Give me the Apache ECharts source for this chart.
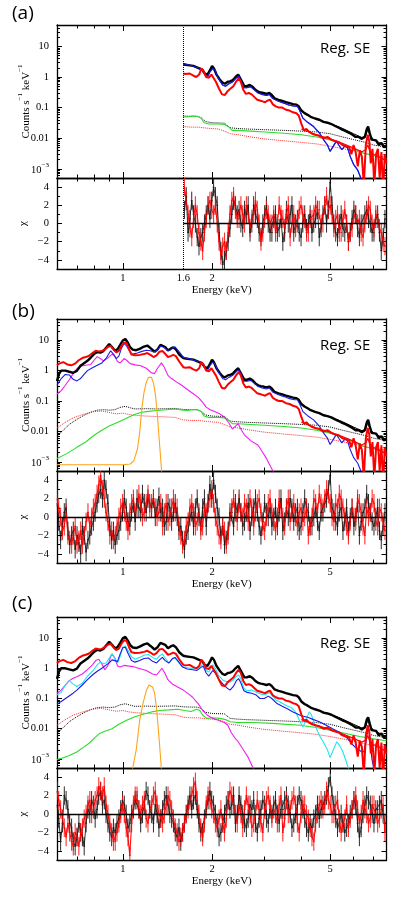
<!DOCTYPE html>
<html><head><meta charset="utf-8">
<script src="https://cdn.jsdelivr.net/npm/echarts@6/dist/echarts.min.js"></script>
<style>html,body{margin:0;padding:0;background:#fff}#c{width:409px;height:897px}</style>
</head><body><div id="c"></div>
<script>
// ---------------- DATA ----------------
// Observed spectra (same data in all three panels): [energy keV, counts s^-1 keV^-1]
const blackData = [[0.60,0.45],[0.61,0.8],[0.62,1.0],[0.64,1.0],[0.66,0.92],[0.68,0.85],[0.70,0.98],[0.72,1.45],[0.74,1.75],[0.76,2.1],
[0.78,2.7],[0.80,3.5],[0.82,4.1],[0.84,3.9],[0.86,4.4],[0.88,5.8],[0.90,7.5],[0.92,6.0],[0.94,4.6],[0.96,5.0],
[0.98,7.0],[1.00,9.8],[1.02,11.0],[1.04,8.3],[1.06,5.8],[1.08,4.9],[1.11,4.7],[1.14,5.2],[1.18,6.2],[1.21,6.7],
[1.24,5.5],[1.28,4.2],[1.31,5.0],[1.34,7.0],[1.36,7.6],[1.39,6.0],[1.42,4.6],[1.45,5.3],[1.48,5.8],[1.51,5.0],
[1.55,3.4],[1.60,2.6],[1.63,2.5],[1.68,2.4],[1.73,2.3],[1.77,2.1],[1.81,1.9],[1.85,1.75],[1.89,1.3],[1.93,1.2],
[1.97,1.7],[2.00,2.3],[2.03,1.9],[2.07,1.2],[2.12,0.85],[2.17,0.65],[2.21,0.6],[2.26,0.7],[2.30,0.72],[2.35,0.8],
[2.40,1.0],[2.45,1.2],[2.48,1.1],[2.52,0.72],[2.57,0.5],[2.62,0.5],[2.68,0.55],[2.74,0.48],[2.80,0.38],[2.86,0.33],
[2.92,0.31],[2.98,0.3],[3.05,0.28],[3.12,0.3],[3.18,0.26],[3.25,0.2],[3.35,0.18],[3.45,0.165],[3.55,0.15],[3.65,0.14],
[3.75,0.13],[3.85,0.125],[3.92,0.11],[4.00,0.08],[4.10,0.066],[4.20,0.058],[4.30,0.05],[4.45,0.044],[4.60,0.04],[4.75,0.034],
[4.90,0.032],[5.05,0.029],[5.20,0.025],[5.35,0.022],[5.50,0.019],[5.65,0.017],[5.80,0.015],[5.95,0.013],[6.10,0.011],[6.25,0.011],
[6.40,0.0095],[6.55,0.011],[6.65,0.02],[6.72,0.024],[6.80,0.015],[6.90,0.009],[7.00,0.008],[7.15,0.0085],[7.30,0.006],[7.45,0.007],
[7.60,0.005],[7.72,0.006]];
const redData = [[0.60,1.5],[0.61,1.7],[0.63,1.9],[0.65,1.6],[0.67,1.5],[0.69,1.7],[0.71,2.2],[0.73,2.6],[0.75,2.8],[0.77,3.1],
[0.79,3.8],[0.81,4.5],[0.83,4.3],[0.85,4.4],[0.87,5.0],[0.89,6.0],[0.91,6.5],[0.93,5.0],[0.95,4.0],[0.97,4.5],
[0.99,6.5],[1.01,8.5],[1.03,8.0],[1.05,5.0],[1.07,3.4],[1.10,3.2],[1.14,3.3],[1.18,3.5],[1.21,3.8],[1.24,3.3],
[1.27,2.8],[1.30,3.2],[1.33,4.2],[1.36,4.4],[1.39,3.6],[1.42,2.8],[1.45,3.0],[1.48,3.3],[1.51,3.0],[1.55,2.0],
[1.60,1.3],[1.63,1.25],[1.68,1.3],[1.73,1.1],[1.77,1.0],[1.81,1.2],[1.84,1.9],[1.87,1.6],[1.91,1.0],[1.95,0.95],
[1.99,1.2],[2.02,1.1],[2.06,0.7],[2.11,0.42],[2.16,0.27],[2.21,0.26],[2.26,0.35],[2.31,0.42],[2.36,0.5],[2.41,0.7],
[2.46,0.9],[2.50,0.7],[2.55,0.38],[2.60,0.28],[2.66,0.3],[2.72,0.27],[2.78,0.22],[2.84,0.18],[2.90,0.17],[2.96,0.16],
[3.02,0.15],[3.08,0.17],[3.14,0.18],[3.20,0.13],[3.28,0.11],[3.36,0.1],[3.45,0.1],[3.55,0.085],[3.65,0.08],[3.75,0.07],
[3.85,0.065],[3.92,0.055],[4.00,0.03],[4.08,0.018],[4.16,0.02],[4.25,0.016],[4.35,0.014],[4.45,0.013],[4.60,0.012],[4.75,0.01],
[4.90,0.011],[5.05,0.009],[5.20,0.008],[5.35,0.0075],[5.50,0.006],[5.65,0.0055],[5.80,0.005],[5.90,0.003],[6.00,0.006],[6.10,0.0035],
[6.20,0.0012],[6.30,0.004],[6.40,0.0025],[6.50,0.0003],[6.60,0.006],[6.70,0.013],[6.78,0.008],[6.86,0.0015],[6.95,0.0045],[7.05,0.0003],
[7.15,0.003],[7.25,0.0045],[7.35,0.0005],[7.45,0.0035],[7.55,0.0002],[7.65,0.003],[7.72,0.0015]];
const blackModel = [[4.5,0.042],[5.0,0.03],[5.5,0.021],[6.0,0.014],[6.4,0.0105],[6.6,0.012],[6.7,0.02],[6.8,0.013],[7.0,0.009],[7.4,0.0068],[7.75,0.0053]];
const redModel = [[4.0,0.02],[4.5,0.013],[5.0,0.0095],[5.5,0.0068],[6.0,0.0048],[6.4,0.0036],[6.6,0.0042],[6.7,0.006],[6.8,0.004],[7.0,0.003],[7.4,0.0023],[7.75,0.0018]];
// Background models (dotted)
const bgBlack = [[0.60,0.007],[0.63,0.011],[0.66,0.017],[0.70,0.025],[0.74,0.034],[0.78,0.043],[0.82,0.05],[0.86,0.052],[0.90,0.05],[0.94,0.052],
[0.98,0.062],[1.02,0.067],[1.06,0.06],[1.10,0.055],[1.20,0.056],[1.30,0.055],[1.40,0.056],[1.50,0.057],[1.60,0.053],[1.70,0.052],
[1.78,0.052],[1.84,0.046],[1.90,0.035],[2.00,0.032],[2.20,0.031],[2.30,0.022],[2.40,0.021],[2.60,0.02],[3.00,0.019],[3.50,0.018],
[4.00,0.017],[4.50,0.016],[5.00,0.014],[5.50,0.011],[6.00,0.009],[6.50,0.0075],[7.00,0.006],[7.75,0.005]];
const bgRed = [[0.60,0.013],[0.64,0.02],[0.68,0.028],[0.72,0.034],[0.76,0.04],[0.80,0.045],[0.85,0.047],[0.90,0.042],[0.95,0.038],[1.00,0.04],
[1.05,0.036],[1.10,0.034],[1.20,0.032],[1.30,0.031],[1.40,0.03],[1.50,0.029],[1.60,0.024],[1.70,0.023],[1.80,0.023],[1.86,0.022],
[1.95,0.021],[2.10,0.02],[2.20,0.017],[2.30,0.014],[2.45,0.013],[2.70,0.011],[3.00,0.0095],[3.50,0.0082],[4.00,0.0073],[4.50,0.0065],
[5.00,0.0055],[5.50,0.0046],[6.00,0.0039],[6.50,0.0032],[7.00,0.0028],[7.75,0.0024]];
// Model components, fits (a)/(b)
const blueB = [[0.60,0.33],[0.62,0.55],[0.64,0.75],[0.66,0.72],[0.68,0.52],[0.70,0.46],[0.72,0.55],[0.74,0.75],[0.76,1.0],[0.79,1.25],
[0.82,1.5],[0.85,1.8],[0.88,2.6],[0.91,4.5],[0.93,3.5],[0.95,2.5],[0.97,3.0],[0.99,5.5],[1.01,7.8],[1.03,6.5],
[1.06,4.0],[1.08,3.5],[1.12,3.8],[1.16,4.3],[1.20,4.7],[1.24,4.5],[1.27,4.1],[1.30,4.6],[1.34,6.4],[1.37,6.0],
[1.41,4.8],[1.44,4.6],[1.47,5.5],[1.50,6.1],[1.54,4.5],[1.60,2.8],[1.63,2.6],[1.66,2.5],[1.72,2.3],[1.79,2.0],
[1.84,1.9],[1.89,1.2],[1.93,1.0],[1.97,1.5],[2.01,1.9],[2.05,1.6],[2.10,0.9],[2.17,0.55],[2.22,0.5],[2.28,0.6],
[2.35,0.7],[2.42,0.95],[2.46,1.05],[2.50,0.8],[2.56,0.45],[2.62,0.45],[2.70,0.48],[2.78,0.38],[2.86,0.3],[2.95,0.27],
[3.05,0.25],[3.12,0.27],[3.20,0.2],[3.35,0.16],[3.50,0.14],[3.65,0.12],[3.80,0.11],[3.88,0.11],[3.95,0.08],[4.05,0.045],
[4.20,0.033],[4.40,0.024],[4.60,0.015],[4.75,0.009],[4.90,0.006],[5.00,0.0037],[5.10,0.005],[5.25,0.008],[5.35,0.006],[5.48,0.0042],
[5.60,0.0055],[5.72,0.005],[5.85,0.0025],[6.00,0.0014],[6.20,0.0009],[6.35,0.0005],[6.50,0.0003]];
const magentaB = [[0.60,0.17],[0.62,0.22],[0.64,0.33],[0.66,0.5],[0.68,0.8],[0.70,1.15],[0.72,1.4],[0.75,1.5],[0.78,1.6],[0.80,2.2],
[0.82,2.9],[0.84,2.5],[0.86,2.1],[0.89,2.6],[0.92,3.5],[0.94,3.0],[0.96,2.0],[0.98,1.8],[1.01,2.5],[1.03,2.2],
[1.06,1.7],[1.10,1.55],[1.15,1.45],[1.20,1.2],[1.25,0.85],[1.28,0.8],[1.31,1.2],[1.35,1.8],[1.38,1.3],[1.42,0.7],
[1.46,0.55],[1.52,0.42],[1.58,0.33],[1.65,0.24],[1.72,0.18],[1.80,0.13],[1.86,0.09],[1.91,0.063],[1.97,0.052],[2.04,0.045],
[2.12,0.038],[2.20,0.03],[2.28,0.019],[2.34,0.012],[2.40,0.015],[2.45,0.018],[2.50,0.012],[2.58,0.0074],[2.70,0.005],[2.86,0.0035],
[2.95,0.0022],[3.05,0.0013],[3.15,0.0007],[3.25,0.0004]];
const orangeB = [[0.60,0.0008],[1.00,0.0008],[1.06,0.00085],[1.09,0.0011],[1.12,0.0026],[1.14,0.009],[1.16,0.06],[1.18,0.2],[1.20,0.4],[1.22,0.6],
[1.235,0.68],[1.25,0.6],[1.27,0.38],[1.29,0.15],[1.31,0.03],[1.33,0.004],[1.35,0.0006],[1.37,0.0001]];
const greenB = [[0.60,0.0013],[0.65,0.0019],[0.70,0.003],[0.75,0.0045],[0.80,0.0075],[0.85,0.011],[0.90,0.015],[0.95,0.019],[1.00,0.024],[1.05,0.03],
[1.10,0.037],[1.15,0.042],[1.20,0.045],[1.30,0.049],[1.40,0.052],[1.50,0.055],[1.60,0.05],[1.65,0.049],[1.72,0.053],[1.78,0.052],
[1.84,0.045],[1.88,0.032],[1.95,0.029],[2.10,0.029],[2.20,0.028],[2.28,0.023],[2.34,0.018],[2.45,0.018],[2.70,0.017],[3.00,0.016],
[3.50,0.0145],[4.00,0.013],[4.50,0.011],[5.00,0.0088],[5.50,0.0064],[6.00,0.0045],[6.50,0.0032],[7.00,0.0027],[7.75,0.0021]];
// Model components, fit (c)
const blueC = [[0.60,0.065],[0.62,0.08],[0.65,0.11],[0.68,0.15],[0.70,0.19],[0.73,0.28],[0.76,0.42],[0.79,0.6],[0.82,0.8],[0.85,1.0],
[0.88,1.3],[0.90,1.5],[0.92,1.9],[0.94,1.8],[0.96,1.7],[0.98,3.0],[1.00,4.8],[1.02,5.0],[1.04,3.2],[1.07,1.8],
[1.10,1.6],[1.14,1.8],[1.18,2.1],[1.22,2.2],[1.26,1.7],[1.30,1.5],[1.33,1.9],[1.36,2.3],[1.39,1.8],[1.43,1.5],
[1.47,2.1],[1.50,2.3],[1.54,1.7],[1.59,1.1],[1.65,0.95],[1.72,0.9],[1.78,0.85],[1.84,1.1],[1.87,1.15],[1.91,0.7],
[1.95,0.55],[2.01,0.85],[2.05,0.7],[2.10,0.45],[2.18,0.3],[2.25,0.22],[2.30,0.19],[2.36,0.25],[2.42,0.4],[2.46,0.45],
[2.50,0.33],[2.56,0.18],[2.62,0.16],[2.72,0.15],[2.82,0.13],[2.90,0.1],[3.00,0.1],[3.10,0.12],[3.18,0.1],[3.30,0.07],
[3.45,0.055],[3.60,0.045],[3.75,0.036],[3.90,0.03],[4.00,0.027],[4.20,0.024],[4.40,0.02],[4.60,0.017],[4.85,0.013],[5.10,0.01],
[5.40,0.0075],[5.70,0.005],[5.95,0.003],[6.15,0.0022],[6.35,0.0018],[6.50,0.0017],[6.62,0.004],[6.72,0.013],[6.80,0.006],[6.92,0.001],
[7.05,0.0004]];
const cyanC = [[0.60,0.13],[0.62,0.16],[0.64,0.28],[0.66,0.4],[0.68,0.3],[0.70,0.25],[0.73,0.32],[0.76,0.55],[0.79,0.8],[0.82,1.3],
[0.84,1.6],[0.86,1.45],[0.88,1.5],[0.90,2.2],[0.92,3.0],[0.94,2.1],[0.96,1.5],[0.98,2.5],[1.00,5.0],[1.02,5.6],
[1.04,4.0],[1.07,2.4],[1.10,2.0],[1.14,2.3],[1.18,2.7],[1.22,2.9],[1.26,2.3],[1.30,2.0],[1.33,2.6],[1.36,3.0],
[1.39,2.2],[1.43,1.5],[1.47,2.0],[1.50,2.2],[1.54,1.6],[1.59,1.15],[1.65,1.05],[1.72,0.98],[1.78,0.95],[1.84,1.25],
[1.87,1.3],[1.91,0.85],[1.95,0.75],[2.01,1.3],[2.05,1.0],[2.10,0.6],[2.18,0.4],[2.25,0.35],[2.30,0.35],[2.36,0.42],
[2.42,0.55],[2.46,0.6],[2.50,0.45],[2.56,0.22],[2.62,0.18],[2.72,0.19],[2.82,0.16],[2.92,0.14],[3.02,0.13],[3.12,0.16],
[3.20,0.12],[3.30,0.087],[3.45,0.07],[3.60,0.055],[3.70,0.05],[3.80,0.038],[3.86,0.03],[3.95,0.018],[4.05,0.0115],[4.15,0.02],
[4.25,0.036],[4.32,0.03],[4.45,0.013],[4.60,0.006],[4.74,0.0037],[4.90,0.002],[5.00,0.0011],[5.07,0.001],[5.15,0.0022],[5.27,0.0037],
[5.38,0.0028],[5.50,0.0019],[5.65,0.0009],[5.80,0.0004]];
const magentaC = [[0.60,0.15],[0.62,0.19],[0.64,0.28],[0.66,0.39],[0.68,0.47],[0.70,0.53],[0.73,0.65],[0.76,0.9],[0.79,1.3],[0.81,1.8],
[0.83,2.0],[0.85,1.4],[0.87,0.9],[0.89,1.2],[0.91,2.4],[0.92,3.0],[0.94,2.2],[0.96,1.2],[0.98,1.1],[1.01,1.25],
[1.04,1.2],[1.08,1.14],[1.13,1.0],[1.20,0.84],[1.26,0.65],[1.30,0.6],[1.33,0.8],[1.355,1.0],[1.38,0.75],[1.42,0.42],
[1.47,0.3],[1.53,0.24],[1.60,0.19],[1.67,0.14],[1.72,0.11],[1.80,0.065],[1.86,0.04],[1.93,0.028],[2.01,0.022],[2.10,0.019],
[2.20,0.016],[2.26,0.013],[2.32,0.0075],[2.38,0.0052],[2.45,0.0037],[2.55,0.002],[2.65,0.0011],[2.75,0.0005],[2.85,0.0003]];
const orangeC = [[1.05,0.0002],[1.08,0.0005],[1.11,0.002],[1.14,0.019],[1.17,0.07],[1.20,0.18],[1.225,0.28],[1.24,0.29],[1.26,0.24],[1.28,0.15],
[1.30,0.045],[1.32,0.008],[1.34,0.0012],[1.36,0.00015]];
const greenC = [[0.60,0.00095],[0.62,0.00104],[0.66,0.0013],[0.70,0.0017],[0.74,0.0025],[0.77,0.0033],[0.80,0.0048],[0.834,0.0069],[0.88,0.0085],[0.92,0.01],
[0.97,0.014],[1.03,0.019],[1.10,0.025],[1.17,0.03],[1.25,0.036],[1.33,0.04],[1.43,0.042],[1.53,0.044],[1.62,0.04],[1.70,0.037],
[1.77,0.044],[1.82,0.04],[1.86,0.028],[1.92,0.022],[2.00,0.023],[2.13,0.022],[2.22,0.02],[2.30,0.017],[2.45,0.016],[2.75,0.016],
[3.20,0.015],[3.96,0.013],[4.50,0.011],[5.12,0.0085],[5.70,0.0068],[6.30,0.0055],[7.00,0.0046],[7.75,0.004]];
// Residual bins (keV) and chi values
const resEnergy = [0.600,0.608,0.617,0.626,0.635,0.644,0.653,0.662,0.672,0.681,0.691,0.701,0.711,0.721,0.731,0.741,0.752,0.763,0.774,0.785,
0.796,0.807,0.819,0.830,0.842,0.854,0.866,0.878,0.891,0.904,0.917,0.930,0.943,0.956,0.970,0.984,0.998,1.012,1.027,1.041,
1.056,1.071,1.086,1.101,1.117,1.133,1.149,1.165,1.182,1.199,1.216,1.233,1.251,1.269,1.287,1.305,1.324,1.343,1.362,1.381,
1.401,1.421,1.441,1.461,1.482,1.503,1.525,1.547,1.569,1.591,1.614,1.637,1.660,1.684,1.708,1.732,1.757,1.782,1.807,1.833,
1.859,1.885,1.912,1.939,1.967,1.995,2.024,2.053,2.082,2.112,2.142,2.172,2.203,2.234,2.266,2.298,2.331,2.364,2.398,2.432,
2.467,2.502,2.538,2.574,2.611,2.648,2.686,2.724,2.763,2.802,2.842,2.883,2.924,2.966,3.008,3.051,3.094,3.138,3.183,3.228,
3.274,3.321,3.368,3.416,3.465,3.514,3.564,3.615,3.667,3.719,3.772,3.826,3.880,3.935,3.991,4.048,4.106,4.165,4.224,4.284,
4.345,4.407,4.470,4.534,4.598,4.664,4.730,4.797,4.866,4.935,5.006,5.077,5.150,5.224,5.298,5.373,5.450,5.527,5.606,5.686,
5.767,5.849,5.933,6.017,6.103,6.191,6.279,6.368,6.459,6.551,6.645,6.740,6.836,6.933,7.032,7.132,7.234,7.337,7.442,7.548,7.656];
const resBlackA = [1.5,3,-1,0.5,2.5,1,0,-1.5,-2.5,-1.5,
-1,0,1,2,0.5,2.5,4,3,2,-1,-3,-4.5,-4,-3,-2,-0.5,1,2.5,2,1,
1.5,0,-0.5,1.5,1,2,-1,0,2,1,0.5,-1,-1.5,0,1,2,0,-1,-1,0.5,
1,-1,-0.5,0.5,-2,-1,1.5,0,1,2,-1,0,0.5,-1,-1.5,0,1,-0.5,0,1,
-1,0,0.5,1.5,-1.5,-0.5,1,2,0,1.5,4.5,2,0,-1,-1.5,0,1,-0.5,-1,0,
-2,-1,0.5,1.5,1,-0.5,-1.5,0,0,1,1.5,0.5,0,-1,-1,0.5,1,-1,-3,-1.5,0.5];
const resRedA = [4,2.5,1,-0.5,-1.5,0.5,2,1,-1,-2,
-3,-1,0.5,2,2.5,1.5,1,2,0,-2,-3.5,-2.5,-2,-3,-1,1,2.5,3,1.5,0.5,
0.5,2,1,0,2,1,-0.5,0.5,1,2.5,1.5,0,-2,-1,0.5,1.5,1,0,0,1,
-1,0,2,1,0.5,-0.5,1,2,-1.5,0,1,-0.5,0,1.5,2,1,0.5,-1,-1,0.5,
0.5,1,2,1.5,1.5,0,0,2,3,1.5,2,1,-0.5,0.5,1,-1,-1,0.5,1.5,0,
-2,-1,-0.5,1,1,0,0.5,-1,-1.5,0,1,2,1.5,0,-0.5,1,0.5,-0.5,-1,-2,-2.5];
const resBlackB = [1.5,-0.5,-2.5,-1,0.5,1,-1.5,-3,-2,-1.5,-3.5,-2,-2.8,-4,-1,-2,-3.8,-2.5,-2,-1,
-0.5,0.5,1.5,2.5,3,2,4,3,1.5,-1,-2.5,-1.5,-3,-2,-1.5,-0.5,0.5,2,1,-0.5,
-1,0.5,1.5,-0.5,2,1,0.5,2.5,1.5,0.5,2,1.5,1,2,0,1,2.2,0.5,1,-1,
-0.5,1.5,1,-0.5,0.5,1.5,0,-1.5,-1,-2.5,-3.5,-2,-1.5,0,0.5,-1,1,2,0,-1,
1,2,-1,1.5,3.5,2,4,2.5,1,0,-2,-1,-3,-2.5,-1.5,0.5,0.5,-1,1.5,0.5,
2,0.5,-1,-0.5,0.5,1.5,-1.5,0,1,2,0.5,-1,-2,-0.5,1.5,0.5,0,1,-1,0,
1,-1,0.5,2,-1.5,-0.5,1,0,2,1,-0.5,0.5,1,-1.5,-1,0.5,2,1,0.5,-1,
-1,0,1,-0.5,-1.5,0.5,0.5,1.5,2,3,4.5,1,0.5,-0.5,-1,0.5,1,-1.5,-0.5,1,
-1.5,0,1,-1,0,1.5,-2,-0.5,0.5,1,2.5,1.5,0.5,-0.5,-1,0,1,-1.5,-2.5,-1,0.5];
const resRedB = [2,1,0,-1.5,-1,0.5,-2,-2.5,-3,-2,-1,-3,-2.5,-1.5,-3,-2,-0.5,0.5,-1,0,
1,1.5,2.5,3.5,4.5,3,2,0.5,-0.5,-2,-1.5,-2.5,-2,-1,0,1,1.5,0.5,-0.5,-1.5,
0.5,1.5,2,0.5,1,2.5,1.5,0,0.5,1.5,2.5,1,1.5,2,1,0,0.5,1.5,-1,0.5,
1.5,-0.5,0,1,2,0.5,1,-1,-2,-3,-2.5,-1,-0.5,1,1.5,0.5,-1,-0.5,0.5,-1.5,
-1,1,0.5,1.5,2,3,1.5,0,-1,-2,-2.5,-1,-1.5,-3,-2,0,1,2,0.5,-0.5,
1.5,0.5,0,1.5,1,-0.5,2,1,-1,0.5,1.5,2,0.5,-1,-1.5,0,1.5,2,0.5,-0.5,
-1.5,0,2,1,0,-1,1,2,-0.5,0.5,1.5,0,-1,0.5,1,-0.5,0,1,-2,-1,
0,2,1.5,0.5,2.5,1.5,1,2,3,2.5,1.5,0,-0.5,1.5,1,2.5,2,1,0,-1,
-2,-0.5,1,0,-0.5,2,1.5,0.5,-1,-2,1,0,0.5,2,1.5,-0.5,-1,1,0.5,-0.5,-1.5];
const resBlackC = [1,-0.5,-3,-1,2,1.5,0.5,-1,-1.5,-3,-3.5,-2.5,-1,-2,-2.5,-3.5,-1,0.5,0,1.5,
1,-0.5,0.5,2,2.5,1,1.5,0,-1,-2,-2.5,-1.5,-2,-1,-0.5,0.5,1.5,1,0,-1.5,
-1,0,0.5,1.5,1.5,0.5,-1,0,1,2.5,2,0.5,0,-1,1,0,-1.5,-0.5,0.5,1.5,
2,1,0,-0.5,-1,-2,-2.5,-1.5,-3,-2,-1,0,1,2,0.5,1.5,2,0.5,-1,-2,
-2,-0.5,0.5,1.5,2.5,1.5,1,0,-1,-2.5,-2,-1,0,1,1.5,0.5,1,2,-1,0,
2,1,0,-1,-1.5,-0.5,1,0.5,1.5,-1,-2,-0.5,0.5,1.5,1,-0.5,-1,0.5,0,1,
1.5,0,-1,0.5,0.5,1.5,2,1,0,-1.5,-1,0,1,2,1.5,0.5,-0.5,-1.5,-2,-1,
-1.5,-0.5,0,1,-0.5,0.5,1,1.5,2,3,4,2,1,-0.5,-1.5,-1,0,-1,-2,-1.5,
-1,0,0.5,1.5,1,-1,-2.5,-1.5,0,1,2,1.5,1,0,-1,0.5,0.5,1,1.5,0,-1];
const resRedC = [2.5,1.5,0.5,-0.5,-1.5,-2.5,-1,-2,-3,-3.5,-2,-2.5,-3.5,-2,-1.5,-0.5,0,1,1.5,0,
0.5,1.5,2,3,2.5,2,3,1,0,-1,-2,-3,-3,-2,-1,0,1,0,-1.5,-2.5,
-4.5,-1,1,2,2,0.5,0,1,1.5,-0.5,-1,0.5,1,2,2.5,1,0,-0.5,-1,0,
1,2,1.5,0.5,-0.5,-1.5,-2,-3,-2.5,-2,-1,0,0.5,1.5,2,3,3.5,1.5,0,-1.5,
-2.5,-1,1,2,1.5,0.5,0,-1,-1.5,-0.5,0.5,-1,-2,-0.5,1.5,2.5,2,1,0,-1,
1,0,-1.5,0.5,2,1,0,-1.5,-1,0,1.5,0.5,-1,-2,0.5,1.5,2,1,-0.5,0.5,
0,-1,1,2,-2,-0.5,1.5,0,0.5,1.5,2,1,-1,-2,0,1,1,0,-0.5,-1.5,
-2.5,-3,-1,0,1,1.5,0.5,1,2.5,1.5,1,0,0,1,1.5,-0.5,-2,-1,-0.5,1,
-1.5,-0.5,0.5,1.5,2,0.5,-1,0,1.5,0.5,0,-1,-0.5,1,1,0,-1,-0.5,0.5,1,-2];
// Axis tick values
const xMajorTicks = [1, 2, 5];
const xMinorTicks = [0.6, 0.7, 0.8, 0.9, 3, 4, 6, 7];
const yMajorTicks = [0.001, 0.01, 0.1, 1, 10];
const chiMajorTicks = [-4, -2, 0, 2, 4];
const chiMinorTicks = [-3, -1, 1, 3];

// ---------------- CHART ----------------
const SERIF = 'Liberation Serif';
const SANS = 'Open Sans';
const E_MIN = 0.6, E_MAX = 7.75, Y_MIN = 5e-4, Y_MAX = 50;
const LOG = Math.log10;
const yMinorTicks = [];
for (let d = -4; d <= 1; d++) for (let m = 2; m <= 9; m++) { const v = m * Math.pow(10, d); if (v > Y_MIN && v < Y_MAX) yMinorTicks.push(v); }

const COL = {blue:'#1a1ae6', magenta:'#f01ef0', orange:'#ffa31a', green:'#2bdc2b', cyan:'#1ee6f0', red:'#ff0000'};

const layout = [
  {name:'(a)', top:25, hUp:153, hRes:91, minE:1.6, xLabels:[1,1.6,2,5], labTop:4, regTop:41,
   comps:[['green',greenB],['blue',blueB]], resB:resBlackA, resR:resRedA},
  {name:'(b)', top:319, hUp:152, hRes:92, minE:0, xLabels:[1,2,5], labTop:302, regTop:338,
   comps:[['green',greenB],['orange',orangeB],['magenta',magentaB]], after:[['blue',blueB]], resB:resBlackB, resR:resRedB},
  {name:'(c)', top:617, hUp:151, hRes:92, minE:0, xLabels:[1,2,5], labTop:594, regTop:636,
   comps:[['green',greenC],['orange',orangeC],['magenta',magentaC],['cyan',cyanC]], after:[['blue',blueC]], resB:resBlackC, resR:resRedC}
];

const grids = [], xAxes = [], yAxes = [], series = [], graphics = [];
const lbl = {fontFamily:SERIF, fontSize:10.5, color:'#000'};
const richSup = {
  a:{fontFamily:SERIF, fontSize:11, color:'#000', lineHeight:15, verticalAlign:'bottom'},
  b:{fontFamily:SERIF, fontSize:10.5, color:'#000', lineHeight:14, verticalAlign:'bottom'},
  s:{fontFamily:SERIF, fontSize:7, color:'#000', lineHeight:8, verticalAlign:'top'}
};
const lineOn = {show:true, onZero:false, lineStyle:{color:'#000', width:1.3}};
const lineOff = {show:false, onZero:false};

function decoX(gi, pos, ticks, len, showLine, labels, name) {
  return {gridIndex:gi, type:'value', position:pos, min:LOG(E_MIN), max:LOG(E_MAX),
    axisLine: showLine ? lineOn : lineOff,
    axisTick:{show:true, inside:true, length:len, customValues:ticks.map(LOG), lineStyle:{color:'#000', width:1}},
    axisLabel: labels ? Object.assign({show:true, customValues:labels.map(LOG), margin:4,
      formatter: v => String(Math.round(Math.pow(10, v) * 10) / 10)}, lbl) : {show:false},
    splitLine:{show:false}, name: name || '', nameLocation:'middle', nameGap:16, nameMoveOverlap:false,
    nameTextStyle:{fontFamily:SERIF, fontSize:11, color:'#000'}};
}
function decoY(gi, pos, min, max, ticks, len, showLine, labels, fmt, name, gap) {
  return {gridIndex:gi, type:'value', position:pos, min:min, max:max,
    axisLine: showLine ? lineOn : lineOff,
    axisTick:{show:true, inside:true, length:len, customValues:ticks, lineStyle:{color:'#000', width:1}},
    axisLabel: labels ? Object.assign({show:true, customValues:labels, margin:8, formatter:fmt, rich:richSup}, lbl) : {show:false},
    splitLine:{show:false}, name: name || '', nameLocation:'middle', nameGap:gap || 29, nameRotate:90, nameMoveOverlap:false,
    nameTextStyle:{fontFamily:SERIF, fontSize:11, color:'#000', rich:richSup}};
}
function fmtLogY(v) { const e = Math.round(v); return e === -3 ? '{b|10}{s|\u22123}' : String(Math.pow(10, e)); }
function fmtChi(v) { return v < 0 ? '\u2212' + (-v) : String(v); }

function errBars(es, color, width) {
  return function (params, api) {
    const i = params.dataIndex;
    const e = es[i], r = api.value(1);
    const eL = i > 0 ? Math.sqrt(es[i - 1] * e) : e * Math.sqrt(e / es[i + 1]);
    const eR = i < es.length - 1 ? Math.sqrt(es[i + 1] * e) : e * Math.sqrt(e / es[i - 1]);
    const c = api.coord([e, r]), lo = api.coord([e, r - 1]), hi = api.coord([e, r + 1]);
    const l = api.coord([eL, r]), rr = api.coord([eR, r]);
    return {type:'group', children:[
      {type:'line', shape:{x1:c[0], y1:lo[1], x2:c[0], y2:hi[1]}, style:{stroke:color, lineWidth:width}},
      {type:'line', shape:{x1:l[0], y1:c[1], x2:rr[0], y2:c[1]}, style:{stroke:color, lineWidth:width}}
    ]};
  };
}

layout.forEach(P => {
  const gU = grids.length;
  grids.push({left:57, right:22.5, top:P.top, height:P.hUp, outerBoundsMode:'none', containLabel:false});
  const gR = grids.length;
  grids.push({left:57, right:22.5, top:P.top + P.hUp, height:P.hRes, outerBoundsMode:'none', containLabel:false});
  [gU, gR].forEach(g => {
    const isRes = g === gR;
    xAxes.push({gridIndex:g, type:'log', min:E_MIN, max:E_MAX, show:false, axisLine:lineOff});
    xAxes.push(decoX(g, 'bottom', xMajorTicks, 6, true, isRes ? P.xLabels : null, isRes ? 'Energy (keV)' : ''));
    xAxes.push(decoX(g, 'bottom', xMinorTicks, 3.5, false, null, ''));
    xAxes.push(decoX(g, 'top', xMajorTicks, 6, true, null, ''));
    xAxes.push(decoX(g, 'top', xMinorTicks, 3.5, false, null, ''));
    if (!isRes) {
      yAxes.push({gridIndex:g, type:'log', min:Y_MIN, max:Y_MAX, show:false, axisLine:lineOff});
      yAxes.push(decoY(g, 'left', LOG(Y_MIN), LOG(Y_MAX), yMajorTicks.map(LOG), 5, true, yMajorTicks.map(LOG), fmtLogY,
        '{a|Counts s}{s|\u22121}{a| keV}{s|\u22121}', 25));
      yAxes.push(decoY(g, 'left', LOG(Y_MIN), LOG(Y_MAX), yMinorTicks.map(LOG), 3, false, null));
      yAxes.push(decoY(g, 'right', LOG(Y_MIN), LOG(Y_MAX), yMajorTicks.map(LOG), 5, true, null));
      yAxes.push(decoY(g, 'right', LOG(Y_MIN), LOG(Y_MAX), yMinorTicks.map(LOG), 3, false, null));
    } else {
      yAxes.push({gridIndex:g, type:'value', min:-5, max:5, show:false, axisLine:lineOff});
      yAxes.push(decoY(g, 'left', -5, 5, chiMajorTicks, 5, true, chiMajorTicks, fmtChi, '{a|\u03c7}', 28));
      yAxes.push(decoY(g, 'left', -5, 5, chiMinorTicks, 3, false, null));
      yAxes.push(decoY(g, 'right', -5, 5, chiMajorTicks, 5, true, null));
      yAxes.push(decoY(g, 'right', -5, 5, chiMinorTicks, 3, false, null));
    }
  });
  const xi = gU * 5, yi = gU * 5, xr = gR * 5, yr = gR * 5;
  const cut = d => d.filter(p => p[0] >= P.minE);
  const line = (data, color, width, type, extra) => Object.assign({type:'line', xAxisIndex:xi, yAxisIndex:yi, data:cut(data),
    showSymbol:false, symbol:'none', silent:true, animation:false, lineStyle:{color:color, width:width, type:type || 'solid'}}, extra || {});
  series.push(line(bgBlack, '#000', 1, 'dotted'));
  series.push(line(bgRed, '#ff2a2a', 1, 'dotted'));
  P.comps.forEach(c => series.push(line(c[1], COL[c[0]], 1.1)));
  series.push(line(blackData, '#000', 2.4));
  series.push(line(blackModel, '#000', 1));
  (P.after || []).forEach(c => series.push(line(c[1], COL[c[0]], 1.1)));
  if (P.name === '(a)') series.push(line(blueB, COL.blue, 1.1));
  series.push(line(redData, '#ff0000', 2));
  series.push(line(redModel, '#ff0000', 1.2));
  if (P.minE > 0) {
    series[series.length - 1].markLine = {symbol:'none', silent:true, label:{show:false}, animation:false,
      lineStyle:{type:'dotted', color:'#000', width:1}, data:[{xAxis:P.minE}]};
  }
  const es = resEnergy.filter(e => e >= P.minE);
  const resSets = [[P.resB, 'rgba(20,20,20,0.9)', 'rgba(20,20,20,0.85)', 1], [P.resR, 'rgba(255,10,10,0.85)', 'rgba(255,0,0,0.95)', 1.1]];
  resSets.forEach(rs => {
    const pts = es.map((e, i) => [e, rs[0][i]]);
    series.push({type:'line', xAxisIndex:xr, yAxisIndex:yr, data:pts, showSymbol:false, symbol:'none', silent:true, animation:false,
      lineStyle:{color:rs[2], width:rs[3]}});
    series.push({type:'custom', xAxisIndex:xr, yAxisIndex:yr, clip:true, silent:true, animation:false,
      data:pts, encode:{x:0, y:1}, renderItem: errBars(es, rs[1], rs[3])});
  });
  series.push({type:'line', xAxisIndex:xr, yAxisIndex:yr, data:[], silent:true, animation:false, z:5,
    markLine:{symbol:'none', silent:true, label:{show:false}, animation:false, lineStyle:{type:'solid', color:'#000', width:1.3},
      data: P.minE > 0 ? [[{coord:[P.minE, 0]}, {coord:[E_MAX, 0]}]] : [{yAxis:0}]}});
  if (P.minE > 0) {
    series.push({type:'line', xAxisIndex:xr, yAxisIndex:yr, data:[], silent:true, animation:false,
      markLine:{symbol:'none', silent:true, label:{show:false}, animation:false,
        lineStyle:{type:'dotted', color:'#000', width:1}, data:[{xAxis:P.minE}]}});
  }
  graphics.push({type:'text', left:12, top:P.labTop, style:{text:P.name, fontFamily:SANS, fontSize:19, fill:'#000'}});
  graphics.push({type:'text', left:320, top:P.regTop, style:{text:'Reg. SE', fontFamily:SANS, fontSize:15, fill:'#000'}});
});

const chart = echarts.init(document.getElementById('c'), null, {renderer:'canvas'});
chart.setOption({animation:false, backgroundColor:'#fff', grid:grids, xAxis:xAxes, yAxis:yAxes, series:series, graphic:graphics});
</script></body></html>
